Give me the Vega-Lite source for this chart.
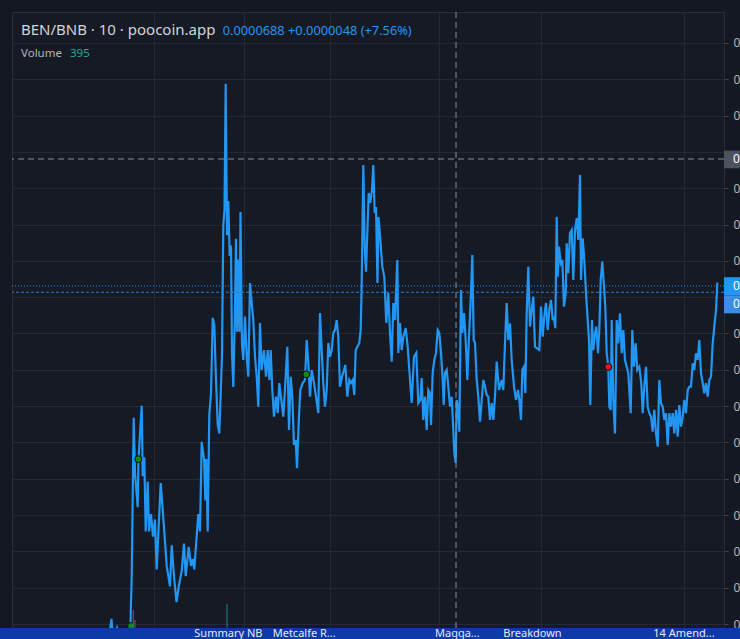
{
  "$schema": "https://vega.github.io/schema/vega-lite/v6.json",
  "usermeta": {"embedOptions": {"actions": false}},
  "width": 712,
  "height": 627,
  "autosize": {"type": "none"},
  "padding": {"left": 12, "top": 12, "right": 16, "bottom": 0},
  "background": "#141823",
  "config": {"view": {"stroke": "#2a2e39", "fill": "#161a25"}, "font": "Noto Sans"},
  "datasets": {
    "price": [
      {"bar":96,"price":0.00004884},{"bar":99.5,"price":0.00005028},{"bar":101,"price":0.00004912},{"bar":105,"price":0.00004978},{"bar":110,"price":0.00004884},{"bar":118.3,"price":0.00004912},{"bar":118.8,"price":0.00005077},{"bar":119.7,"price":0.00005254},{"bar":121.7,"price":0.00006136},{"bar":123,"price":0.00005832},{"bar":125.7,"price":0.00005643},{"bar":126.5,"price":0.00005908},{"bar":129.7,"price":0.00006202},{"bar":130.7,"price":0.00005814},{"bar":132.3,"price":0.00005918},{"bar":133.7,"price":0.00005510},{"bar":135.7,"price":0.00005785},{"bar":137,"price":0.00005510},{"bar":139,"price":0.00005605},{"bar":141,"price":0.00005481},{"bar":143,"price":0.00005576},{"bar":144.7,"price":0.00005301},{"bar":146.3,"price":0.00005491},{"bar":148.7,"price":0.00005776},{"bar":151.3,"price":0.00005585},{"bar":154.7,"price":0.00005320},{"bar":158,"price":0.00005207},{"bar":159.7,"price":0.00005434},{"bar":162,"price":0.00005263},{"bar":164.5,"price":0.00005121},{"bar":167,"price":0.00005215},{"bar":169.7,"price":0.00005292},{"bar":172,"price":0.00005443},{"bar":173.7,"price":0.00005263},{"bar":176.7,"price":0.00005425},{"bar":179,"price":0.00005320},{"bar":180.7,"price":0.00005358},{"bar":182.3,"price":0.00005301},{"bar":184,"price":0.00005434},{"bar":186.3,"price":0.00005605},{"bar":188,"price":0.00005510},{"bar":189.7,"price":0.00006003},{"bar":192,"price":0.00005908},{"bar":193.3,"price":0.00005681},{"bar":194.3,"price":0.00005908},{"bar":195.7,"price":0.00005510},{"bar":197.3,"price":0.00006154},{"bar":199,"price":0.00006269},{"bar":200.7,"price":0.00006686},{"bar":202.3,"price":0.00006648},{"bar":204,"price":0.00006345},{"bar":205.7,"price":0.00006098},{"bar":207.3,"price":0.00006050},{"bar":208.7,"price":0.00006269},{"bar":210,"price":0.00006477},{"bar":211.3,"price":0.00007198},{"bar":212.5,"price":0.00007280},{"bar":213.7,"price":0.00007975},{"bar":215,"price":0.00007141},{"bar":216.3,"price":0.00007330},{"bar":217.7,"price":0.00007027},{"bar":219,"price":0.00007084},{"bar":220,"price":0.00006496},{"bar":221.3,"price":0.00006306},{"bar":223,"price":0.00006743},{"bar":224,"price":0.00007122},{"bar":225,"price":0.00006610},{"bar":226.3,"price":0.00007008},{"bar":227.5,"price":0.00006610},{"bar":228.5,"price":0.00007269},{"bar":230,"price":0.00006537},{"bar":231.3,"price":0.00006454},{"bar":233,"price":0.00006693},{"bar":234.7,"price":0.00006472},{"bar":236.3,"price":0.00006362},{"bar":238,"price":0.00006878},{"bar":239.7,"price":0.00006768},{"bar":241.3,"price":0.00006674},{"bar":243,"price":0.00006472},{"bar":244.7,"price":0.00006362},{"bar":246.3,"price":0.00006197},{"bar":248,"price":0.00006658},{"bar":249.7,"price":0.00006399},{"bar":252,"price":0.00006509},{"bar":254,"price":0.00006362},{"bar":255.7,"price":0.00006509},{"bar":257.3,"price":0.00006344},{"bar":258.7,"price":0.00006509},{"bar":260.3,"price":0.00006289},{"bar":262,"price":0.00006142},{"bar":264,"price":0.00006252},{"bar":265.7,"price":0.00006162},{"bar":267.3,"price":0.00006327},{"bar":269.7,"price":0.00006217},{"bar":271.3,"price":0.00006142},{"bar":273.3,"price":0.00006327},{"bar":275.3,"price":0.00006527},{"bar":277,"price":0.00006069},{"bar":278.7,"price":0.00006362},{"bar":280.3,"price":0.00006252},{"bar":282,"price":0.00005986},{"bar":283.7,"price":0.00006013},{"bar":285,"price":0.00005858},{"bar":286.7,"price":0.00006107},{"bar":288.3,"price":0.00006289},{"bar":290.7,"price":0.00006327},{"bar":293,"price":0.00006344},{"bar":294.7,"price":0.00006564},{"bar":296.3,"price":0.00006438},{"bar":298,"price":0.00006252},{"bar":299.7,"price":0.00006399},{"bar":302,"price":0.00006327},{"bar":304,"price":0.00006252},{"bar":306.3,"price":0.00006162},{"bar":308,"price":0.00006713},{"bar":309.7,"price":0.00006509},{"bar":311.3,"price":0.00006327},{"bar":313,"price":0.00006197},{"bar":314.7,"price":0.00006289},{"bar":316.3,"price":0.00006548},{"bar":318,"price":0.00006472},{"bar":319.7,"price":0.00006509},{"bar":321.3,"price":0.00006603},{"bar":323,"price":0.00006619},{"bar":324.7,"price":0.00006674},{"bar":326.3,"price":0.00006582},{"bar":328,"price":0.00006307},{"bar":330,"price":0.00006362},{"bar":332,"price":0.00006399},{"bar":333.3,"price":0.00006427},{"bar":335.3,"price":0.00006252},{"bar":337.3,"price":0.00006344},{"bar":339,"price":0.00006327},{"bar":340.7,"price":0.00006344},{"bar":342.3,"price":0.00006261},{"bar":343.7,"price":0.00006509},{"bar":345.3,"price":0.00006527},{"bar":347.3,"price":0.00006548},{"bar":348.7,"price":0.00006619},{"bar":349.7,"price":0.00006878},{"bar":350.7,"price":0.00007280},{"bar":351.3,"price":0.00007528},{"bar":352.7,"price":0.00007078},{"bar":354,"price":0.00006940},{"bar":355.3,"price":0.00007154},{"bar":356.7,"price":0.00007374},{"bar":358.3,"price":0.00007319},{"bar":360,"price":0.00007390},{"bar":361.3,"price":0.00007528},{"bar":362.7,"price":0.00007264},{"bar":364,"price":0.00007297},{"bar":365.5,"price":0.00006878},{"bar":366.5,"price":0.00007242},{"bar":368,"price":0.00007143},{"bar":370.3,"price":0.00006968},{"bar":372.3,"price":0.00006913},{"bar":374.3,"price":0.00006658},{"bar":376.3,"price":0.00006823},{"bar":378,"price":0.00006603},{"bar":379.7,"price":0.00006445},{"bar":381.3,"price":0.00006768},{"bar":383,"price":0.00006674},{"bar":385.3,"price":0.00007005},{"bar":386.3,"price":0.00006493},{"bar":388,"price":0.00006658},{"bar":389.7,"price":0.00006509},{"bar":391.3,"price":0.00006582},{"bar":393.7,"price":0.00006630},{"bar":395.7,"price":0.00006527},{"bar":397.3,"price":0.00006399},{"bar":399.7,"price":0.00006217},{"bar":402,"price":0.00006472},{"bar":404.3,"price":0.00006493},{"bar":406.3,"price":0.00006217},{"bar":408.3,"price":0.00006234},{"bar":409.7,"price":0.00006355},{"bar":411.3,"price":0.00006124},{"bar":413,"price":0.00006252},{"bar":414.7,"price":0.00006069},{"bar":416.3,"price":0.00006289},{"bar":418,"price":0.00006272},{"bar":419,"price":0.00006096},{"bar":420.7,"price":0.00006383},{"bar":422.3,"price":0.00006454},{"bar":424,"price":0.00006493},{"bar":425.7,"price":0.00006619},{"bar":427.3,"price":0.00006603},{"bar":429,"price":0.00006493},{"bar":430.7,"price":0.00006344},{"bar":431.7,"price":0.00006206},{"bar":433,"price":0.00006383},{"bar":434.7,"price":0.00006399},{"bar":436.3,"price":0.00006307},{"bar":438,"price":0.00006197},{"bar":439.7,"price":0.00006252},{"bar":441.3,"price":0.00006069},{"bar":442.3,"price":0.00005942},{"bar":443.7,"price":0.00005887},{"bar":444.7,"price":0.00006234},{"bar":446.3,"price":0.00006179},{"bar":447.3,"price":0.00006059},{"bar":449,"price":0.00006840},{"bar":450.3,"price":0.00006603},{"bar":452,"price":0.00006713},{"bar":453.7,"price":0.00006564},{"bar":455.3,"price":0.00006344},{"bar":457,"price":0.00006582},{"bar":458.7,"price":0.00006785},{"bar":460.3,"price":0.00007032},{"bar":461.7,"price":0.00006564},{"bar":463,"price":0.00006548},{"bar":464.7,"price":0.00006344},{"bar":466.3,"price":0.00006252},{"bar":468,"price":0.00006114},{"bar":469.7,"price":0.00006234},{"bar":471.3,"price":0.00006344},{"bar":473,"price":0.00006307},{"bar":474.7,"price":0.00006261},{"bar":476.3,"price":0.00006252},{"bar":478,"price":0.00006124},{"bar":479.7,"price":0.00006217},{"bar":481.3,"price":0.00006124},{"bar":483,"price":0.00006252},{"bar":484.7,"price":0.00006445},{"bar":487,"price":0.00006289},{"bar":489.7,"price":0.00006344},{"bar":491.3,"price":0.00006289},{"bar":493,"price":0.00006548},{"bar":494.7,"price":0.00006768},{"bar":496.3,"price":0.00006564},{"bar":498,"price":0.00006656},{"bar":499.7,"price":0.00006454},{"bar":502,"price":0.00006307},{"bar":504,"price":0.00006234},{"bar":506,"price":0.00006289},{"bar":507.3,"price":0.00006234},{"bar":509,"price":0.00006124},{"bar":510.3,"price":0.00006399},{"bar":512,"price":0.00006417},{"bar":513.3,"price":0.00006272},{"bar":514.7,"price":0.00006713},{"bar":516.3,"price":0.00006968},{"bar":518,"price":0.00006638},{"bar":519.7,"price":0.00006729},{"bar":521.3,"price":0.00006803},{"bar":523,"price":0.00006527},{"bar":524.7,"price":0.00006519},{"bar":527.3,"price":0.00006509},{"bar":529,"price":0.00006748},{"bar":530.7,"price":0.00006582},{"bar":532.3,"price":0.00006693},{"bar":534,"price":0.00006768},{"bar":535.7,"price":0.00006619},{"bar":537.3,"price":0.00006729},{"bar":539,"price":0.00006785},{"bar":540.7,"price":0.00006674},{"bar":542,"price":0.00006693},{"bar":543.3,"price":0.00006629},{"bar":544.7,"price":0.00007243},{"bar":545.7,"price":0.00006913},{"bar":547,"price":0.00007078},{"bar":548.7,"price":0.00006987},{"bar":550.3,"price":0.00007005},{"bar":552,"price":0.00006748},{"bar":553.7,"price":0.00006822},{"bar":554.7,"price":0.00007097},{"bar":556.3,"price":0.00006932},{"bar":558,"price":0.00007152},{"bar":559.7,"price":0.00007170},{"bar":561.3,"price":0.00006895},{"bar":563,"price":0.00007170},{"bar":564.7,"price":0.00007235},{"bar":566.3,"price":0.00007115},{"bar":568,"price":0.00007473},{"bar":569,"price":0.00006895},{"bar":570.7,"price":0.00007124},{"bar":572.3,"price":0.00007005},{"bar":574,"price":0.00006822},{"bar":575.7,"price":0.00006674},{"bar":577,"price":0.00006564},{"bar":578.3,"price":0.00006206},{"bar":580,"price":0.00006674},{"bar":581.3,"price":0.00006509},{"bar":583,"price":0.00006601},{"bar":584.3,"price":0.00006638},{"bar":586,"price":0.00006491},{"bar":587.3,"price":0.00006619},{"bar":588.7,"price":0.00006895},{"bar":590.3,"price":0.00006996},{"bar":592,"price":0.00006858},{"bar":593.3,"price":0.00006748},{"bar":594.7,"price":0.00006491},{"bar":596.3,"price":0.00006417},{"bar":597.3,"price":0.00006197},{"bar":598.7,"price":0.00006179},{"bar":599.7,"price":0.00006674},{"bar":601.3,"price":0.00006234},{"bar":603,"price":0.00006050},{"bar":604.7,"price":0.00006674},{"bar":606.3,"price":0.00006546},{"bar":608,"price":0.00006711},{"bar":609.7,"price":0.00006491},{"bar":611.3,"price":0.00006619},{"bar":613,"price":0.00006454},{"bar":614.7,"price":0.00006417},{"bar":616.3,"price":0.00006381},{"bar":618.7,"price":0.00006161},{"bar":620.3,"price":0.00006619},{"bar":622,"price":0.00006417},{"bar":623.7,"price":0.00006546},{"bar":625.3,"price":0.00006399},{"bar":627.3,"price":0.00006417},{"bar":629.3,"price":0.00006326},{"bar":630.7,"price":0.00006161},{"bar":632.3,"price":0.00006307},{"bar":634,"price":0.00006417},{"bar":635.7,"price":0.00006197},{"bar":637.3,"price":0.00006161},{"bar":639,"price":0.00006142},{"bar":640.7,"price":0.00006059},{"bar":642.3,"price":0.00006179},{"bar":644,"price":0.00006050},{"bar":645.7,"price":0.00005977},{"bar":647.3,"price":0.00006344},{"bar":649,"price":0.00006216},{"bar":650.7,"price":0.00006197},{"bar":652.3,"price":0.00006124},{"bar":654,"price":0.00006161},{"bar":655.7,"price":0.00005986},{"bar":657.3,"price":0.00006161},{"bar":659,"price":0.00006087},{"bar":660.7,"price":0.00006161},{"bar":662.3,"price":0.00006050},{"bar":664,"price":0.00006179},{"bar":665.7,"price":0.00006032},{"bar":667.3,"price":0.00006206},{"bar":669,"price":0.00006087},{"bar":670.7,"price":0.00006142},{"bar":672.3,"price":0.00006234},{"bar":674,"price":0.00006161},{"bar":675.7,"price":0.00006289},{"bar":677.3,"price":0.00006307},{"bar":679,"price":0.00006307},{"bar":680.7,"price":0.00006436},{"bar":682.3,"price":0.00006399},{"bar":684,"price":0.00006491},{"bar":685.7,"price":0.00006454},{"bar":687.3,"price":0.00006564},{"bar":689,"price":0.00006381},{"bar":690.7,"price":0.00006326},{"bar":692.3,"price":0.00006271},{"bar":694,"price":0.00006326},{"bar":695.7,"price":0.00006252},{"bar":697.3,"price":0.00006344},{"bar":699,"price":0.00006362},{"bar":700.7,"price":0.00006546},{"bar":702.3,"price":0.00006638},{"bar":704,"price":0.00006729},{"bar":705.3,"price":0.00006880}
    ],
    "volume": [
      {"bar":121.3,"volume":719,"dir":"up"},
      {"bar":123,"volume":313,"dir":"down"},
      {"bar":215,"volume":962,"dir":"up"}
    ],
    "signals": [
      {"bar":119,"price":0.00004989,"side":"buy"},
      {"bar":126.3,"price":0.00005908,"side":"buy"},
      {"bar":294.3,"price":0.00006375,"side":"buy"},
      {"bar":596.3,"price":0.00006416,"side":"sell"}
    ],
    "news": [
      {"bar":182.3,"headline":"Summary NB"},
      {"bar":260.7,"headline":"Metcalfe R..."},
      {"bar":423,"headline":"Magga..."},
      {"bar":491.3,"headline":"Breakdown"},
      {"bar":641.3,"headline":"14 Amend..."}
    ]
  },
  "layer": [
    {
      "layer": [
        {
          "data": {"name": "price"},
          "mark": {"type": "line", "color": "#2196f3", "strokeWidth": 2.2},
          "encoding": {
            "x": {"field": "bar", "type": "quantitative",
                  "scale": {"domain": [0, 712], "nice": false, "zero": false},
                  "axis": {"values": [142, 232, 318, 427, 529, 672], "tickCount": 20, "grid": true, "gridColor": "#252934", "labels": false, "ticks": false, "domain": false, "title": null}},
            "y": {"field": "price", "type": "quantitative",
                  "scale": {"domain": [0.000049174, 0.000083707], "nice": false, "zero": false},
                  "axis": {"orient": "right", "tickCount": 40, "values": [0.00005, 0.000052, 0.000054, 0.000056, 0.000058, 0.00006, 0.000062, 0.000064, 0.000066, 0.000068, 0.00007, 0.000072, 0.000074, 0.000076, 0.000078, 0.00008, 0.000082],
                           "grid": true, "gridColor": "#252934", "domain": true, "domainColor": "#2a2e39", "ticks": true, "tickColor": "#434651", "tickSize": 4,
                           "labelExpr": "datum.value == 0.000068 || datum.value == 0.000076 ? '' : '0'", "labelOverlap": false, "labelColor": "#b2b5be", "labelFontSize": 12, "labelFont": "Noto Sans", "labelPadding": 5, "labelAlign": "left", "labelBaseline": "middle", "title": null}}
          }
        },
        {
          "data": {"name": "signals"},
          "mark": {"type": "point", "filled": true, "size": 48, "stroke": "#0b0e14", "strokeWidth": 1, "opacity": 1},
          "encoding": {
            "x": {"field": "bar", "type": "quantitative"},
            "y": {"field": "price", "type": "quantitative"},
            "color": {"field": "side", "type": "nominal", "scale": {"domain": ["buy", "sell"], "range": ["#0e8a14", "#e8141c"]}, "legend": null}
          }
        },
        {
          "data": {"values": [{}]},
          "mark": {"type": "rule", "color": "#8a8d96", "strokeDash": [6, 4], "strokeWidth": 1},
          "encoding": {"x": {"datum": 444, "type": "quantitative"}}
        },
        {
          "data": {"values": [{}]},
          "mark": {"type": "rule", "color": "#8a8d96", "strokeDash": [6, 4], "strokeWidth": 1},
          "encoding": {"y": {"datum": 0.00007561, "type": "quantitative"}}
        },
        {
          "data": {"values": [{}]},
          "mark": {"type": "rule", "color": "#2196f3", "strokeDash": [1, 2], "strokeWidth": 1},
          "encoding": {"y": {"datum": 0.00006862, "type": "quantitative"}}
        },
        {
          "data": {"values": [{}]},
          "mark": {"type": "rule", "color": "#2a7fd0", "strokeDash": [3, 2], "strokeWidth": 1},
          "encoding": {"y": {"datum": 0.00006827, "type": "quantitative"}}
        },
        {
          "data": {"values": [{}]},
          "mark": {"type": "rect", "color": "#0d3aa8"},
          "encoding": {
            "x": {"datum": -12, "type": "quantitative"}, "x2": {"datum": 728},
            "y": {"datum": 0.00004978, "type": "quantitative"}, "y2": {"datum": 0.0000480}
          }
        },
        {
          "data": {"name": "news"},
          "mark": {"type": "text", "align": "left", "baseline": "alphabetic", "fontSize": 11, "color": "#e6e9f0", "font": "Noto Sans"},
          "encoding": {
            "x": {"field": "bar", "type": "quantitative"},
            "y": {"datum": 0.00004926, "type": "quantitative"},
            "text": {"field": "headline"}
          }
        },
        {
          "data": {"values": [{}]},
          "mark": {"type": "rect", "color": "#4c525e"},
          "encoding": {
            "x": {"datum": 712, "type": "quantitative"}, "x2": {"datum": 728},
            "y": {"datum": 0.00007607, "type": "quantitative"}, "y2": {"datum": 0.00007510}
          }
        },
        {
          "data": {"values": [{}]},
          "mark": {"type": "rect", "color": "#2196f3"},
          "encoding": {
            "x": {"datum": 712, "type": "quantitative"}, "x2": {"datum": 728},
            "y": {"datum": 0.00006910, "type": "quantitative"}, "y2": {"datum": 0.00006810}
          }
        },
        {
          "data": {"values": [{}]},
          "mark": {"type": "rect", "color": "#3a8ee6"},
          "encoding": {
            "x": {"datum": 712, "type": "quantitative"}, "x2": {"datum": 728},
            "y": {"datum": 0.00006810, "type": "quantitative"}, "y2": {"datum": 0.00006711}
          }
        },
        {
          "data": {"values": [{"p": 0.00007559}, {"p": 0.00006860}, {"p": 0.00006760}]},
          "mark": {"type": "text", "align": "left", "baseline": "middle", "fontSize": 12, "color": "#ffffff", "font": "Noto Sans", "text": "0"},
          "encoding": {
            "x": {"datum": 721, "type": "quantitative"},
            "y": {"field": "p", "type": "quantitative"}
          }
        },
        {
          "data": {"values": [{}]},
          "mark": {"type": "text", "align": "left", "baseline": "alphabetic", "fontSize": 15, "color": "#d1d4dc", "font": "Noto Sans", "text": "BEN/BNB · 10 · poocoin.app"},
          "encoding": {
            "x": {"datum": 9, "type": "quantitative"},
            "y": {"datum": 0.00008244, "type": "quantitative"}
          }
        },
        {
          "data": {"values": [{}]},
          "mark": {"type": "text", "align": "left", "baseline": "alphabetic", "fontSize": 12.8, "color": "#2196f3", "font": "Noto Sans", "text": "0.0000688 +0.0000048 (+7.56%)"},
          "encoding": {
            "x": {"datum": 210.7, "type": "quantitative"},
            "y": {"datum": 0.00008244, "type": "quantitative"}
          }
        },
        {
          "data": {"values": [{}]},
          "mark": {"type": "text", "align": "left", "baseline": "alphabetic", "fontSize": 11.5, "color": "#b2b5be", "font": "Noto Sans", "text": "Volume"},
          "encoding": {
            "x": {"datum": 9, "type": "quantitative"},
            "y": {"datum": 0.00008121, "type": "quantitative"}
          }
        },
        {
          "data": {"values": [{}]},
          "mark": {"type": "text", "align": "left", "baseline": "alphabetic", "fontSize": 11.5, "color": "#26a69a", "font": "Noto Sans", "text": "395"},
          "encoding": {
            "x": {"datum": 58, "type": "quantitative"},
            "y": {"datum": 0.00008121, "type": "quantitative"}
          }
        }
      ]
    },
    {
      "data": {"name": "volume"},
      "mark": {"type": "rule", "strokeWidth": 1, "opacity": 0.75},
      "encoding": {
        "x": {"field": "bar", "type": "quantitative", "scale": {"domain": [0, 712], "nice": false, "zero": false}},
        "y": {"field": "volume", "type": "quantitative", "scale": {"domain": [-460, 25000], "nice": false, "zero": false}, "axis": null},
        "y2": {"datum": 0},
        "color": {"field": "dir", "type": "nominal", "scale": {"domain": ["up", "down"], "range": ["#26a69a", "#ef5350"]}, "legend": null}
      }
    }
  ],
  "resolve": {"scale": {"y": "independent", "color": "independent"}}
}
